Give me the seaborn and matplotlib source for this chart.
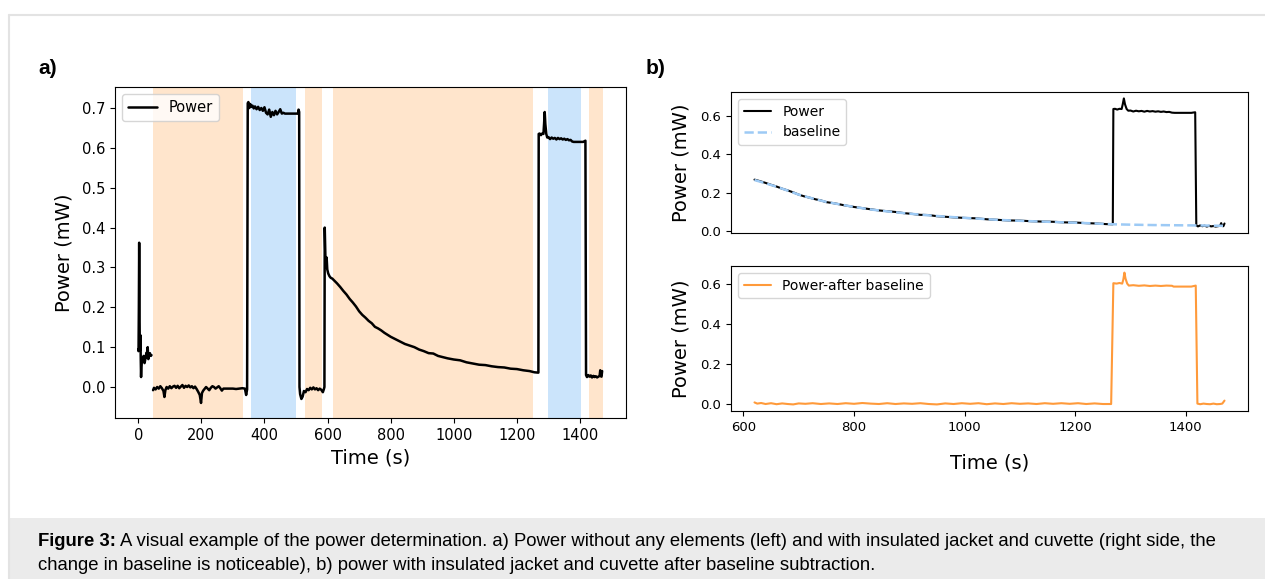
import numpy as np
import pandas as pd
import matplotlib
matplotlib.use("Agg")
import matplotlib.pyplot as plt
import seaborn as sns
from matplotlib.lines import Line2D
from matplotlib.patches import Rectangle

# ---- a) raw power trace (time in s, power in mW) ----
t_spike = [0, 1, 2, 3, 4, 5, 6, 7, 8, 9, 10, 12, 14, 17, 20, 23, 26, 28, 30, 32, 34, 37, 40, 42]
p_spike = [0.095, 0.09, 0.2, 0.362, 0.2, 0.1, 0.092, 0.13, 0.07, 0.025, 0.05, 0.072, 0.064, 0.078,
           0.06, 0.072, 0.086, 0.074, 0.1, 0.07, 0.078, 0.085, 0.078, 0.08]

t_empty = [47, 50, 55, 60, 65, 70, 75, 80, 83, 86,
           90, 95, 100, 105, 110, 115, 120, 125, 130, 135, 140, 145, 150, 155, 160, 165, 170, 175, 180,
           185, 190, 195, 199, 202, 206, 210,
           215, 220, 225, 230, 235, 240, 245, 250, 255, 260, 265, 270,
           280, 290, 300, 310, 320, 330, 338, 342, 345]
p_empty = [-0.008, -0.002, -0.006, 0.0, -0.004, 0.002, -0.003, -0.01, -0.025, -0.008,
           0.0, -0.004, 0.002, -0.003, 0.001, 0.003, -0.002, 0.003, -0.003, 0.001, 0.005, -0.002, 0.003,
           0.0, 0.004, -0.001, 0.002, -0.003, 0.001,
           -0.005, -0.012, -0.02, -0.04, -0.015, -0.009, -0.005,
           0.0, -0.004, -0.008, -0.002, 0.002, 0.0, -0.004, -0.001, 0.002, -0.003, -0.009, -0.004,
           -0.004, -0.004, -0.004, -0.005, -0.004, -0.003, -0.004, -0.02, -0.006]

t_on1 = [347, 349, 352, 355, 358, 362, 366, 370,
         375, 380, 385, 390, 395, 400, 405, 410, 415, 420, 425, 430, 435, 440, 445, 450, 455, 460, 465,
         470, 480, 490, 500, 506, 508, 510]
p_on1 = [0.712, 0.715, 0.70, 0.71, 0.703, 0.706, 0.699, 0.704,
         0.697, 0.703, 0.695, 0.70, 0.693, 0.702, 0.688, 0.684, 0.696, 0.678, 0.69, 0.682, 0.693, 0.684,
         0.69, 0.697, 0.686, 0.688, 0.686,
         0.686, 0.686, 0.686, 0.686, 0.686, 0.696, 0.69]

t_off1 = [511, 513, 517, 521, 525, 530, 535, 540, 545, 550, 555, 560, 565, 570, 575, 580, 585, 588]
p_off1 = [0.0, -0.018, -0.03, -0.024, -0.01, -0.013, -0.005, -0.008, -0.002, -0.006, -0.001, -0.006,
          -0.003, -0.008, -0.004, -0.007, -0.013, -0.006]

t_jacket = [590, 591, 593, 595, 597, 599, 602, 606, 610, 615,
            620, 630, 640, 650, 660, 670, 680, 690, 700, 710, 720, 730, 740, 750, 760, 770, 780, 790, 800,
            815, 830, 845, 860, 875, 890, 905, 920, 935, 950, 965, 980,
            1000, 1020, 1040, 1060, 1080, 1100, 1120, 1140, 1160, 1180, 1200, 1220, 1240,
            1255, 1268]
p_jacket = [0.0, 0.40, 0.33, 0.30, 0.325, 0.295, 0.285, 0.278, 0.274, 0.272,
            0.268, 0.26, 0.251, 0.241, 0.232, 0.221, 0.212, 0.202, 0.19, 0.181, 0.174, 0.166, 0.16,
            0.151, 0.147, 0.142, 0.136, 0.131, 0.126,
            0.12, 0.114, 0.108, 0.104, 0.1, 0.094, 0.09, 0.085, 0.084, 0.078, 0.075, 0.072,
            0.069, 0.067, 0.062, 0.059, 0.056, 0.055, 0.052, 0.05, 0.049, 0.046, 0.045, 0.042, 0.04,
            0.037, 0.036]

t_on2 = [1269, 1272, 1276, 1280, 1284, 1286, 1288, 1290, 1293, 1296,
         1300, 1305, 1310, 1315, 1320, 1325, 1330, 1335, 1340, 1345, 1350, 1355, 1360, 1365, 1370, 1375,
         1380, 1390, 1400, 1410, 1417]
p_on2 = [0.635, 0.636, 0.632, 0.636, 0.635, 0.66, 0.69, 0.66, 0.635, 0.626,
         0.627, 0.622, 0.626, 0.623, 0.625, 0.621, 0.625, 0.622, 0.624, 0.621, 0.623, 0.62, 0.622,
         0.619, 0.62, 0.616,
         0.615, 0.615, 0.615, 0.615, 0.618]

t_off2 = [1419, 1422, 1426, 1430, 1434, 1438, 1442, 1446, 1450, 1454, 1458, 1462, 1464, 1466, 1468, 1470]
p_off2 = [0.03, 0.025, 0.03, 0.026, 0.029, 0.024, 0.028, 0.025, 0.027, 0.024, 0.026, 0.028, 0.042,
          0.027, 0.026, 0.04]

# shaded windows in a): (start, end)
orange_spans = [(47, 332), (528, 581), (616, 1252), (1428, 1472)]
blue_spans = [(356, 501), (1298, 1402)]

# ---- b) baseline fit and power after baseline subtraction ----
t_base = [620, 640, 660, 680, 700, 725, 750, 775, 800, 830, 860, 890, 920, 950, 980,
          1020, 1060, 1100, 1140, 1180, 1220, 1268, 1300, 1340, 1380, 1420, 1470]
p_base = [0.266, 0.249, 0.231, 0.211, 0.19, 0.17, 0.152, 0.139, 0.126, 0.113, 0.103, 0.094, 0.086,
          0.079, 0.073, 0.066, 0.059, 0.054, 0.05, 0.046, 0.042, 0.036, 0.034, 0.032, 0.031, 0.03, 0.028]

t_corr = [620, 625, 632, 640, 650, 660, 670, 680, 690, 700,
          712, 725, 740, 755, 770, 785, 800, 815, 830, 845,
          860, 875, 890, 905, 920, 935, 950, 965, 980, 995,
          1010, 1025, 1040, 1055, 1070, 1085, 1100, 1115, 1130, 1145,
          1160, 1175, 1190, 1205, 1220, 1235, 1250, 1265,
          1269, 1275, 1280, 1285, 1287, 1289, 1291, 1294, 1297,
          1305, 1315, 1325, 1335, 1345, 1355, 1365, 1375,
          1378, 1390, 1400, 1410, 1418,
          1421, 1426, 1432, 1438, 1444, 1450, 1456, 1462, 1466, 1470]
p_corr = [0.006, 0.0, 0.003, -0.002, 0.002, -0.003, 0.001, -0.002, -0.004, 0.001,
          -0.001, 0.002, -0.002, 0.001, -0.002, 0.002, -0.001, 0.003, 0.0, -0.002,
          0.002, -0.002, 0.001, -0.001, 0.002, -0.002, -0.004, 0.001, -0.002, 0.002,
          -0.001, 0.002, -0.003, 0.001, -0.002, 0.002, -0.001, 0.001, -0.002, 0.002,
          -0.001, 0.002, -0.001, 0.002, -0.002, 0.001, -0.002, -0.002,
          0.602, 0.60, 0.603, 0.60, 0.62, 0.655, 0.625, 0.60, 0.59,
          0.592, 0.589, 0.591, 0.588, 0.59, 0.588, 0.59, 0.589,
          0.585, 0.585, 0.585, 0.585, 0.59,
          0.0, -0.003, 0.0, -0.002, -0.003, 0.0, -0.003, -0.002, 0.0, 0.015]

caption_1 = ("A visual example of the power determination. a) Power without any elements (left) "
             "and with insulated jacket and cuvette (right side, the")
caption_2 = ("change in baseline is noticeable), b) power with insulated jacket and cuvette "
             "after baseline subtraction.")

# ---- build frames ----
time_a = t_spike + t_empty + t_on1 + t_off1 + t_jacket + t_on2 + t_off2
power_a = p_spike + p_empty + p_on1 + p_off1 + p_jacket + p_on2 + p_off2
run_a = [0] * len(t_spike) + [1] * (len(time_a) - len(t_spike))
df_a = pd.DataFrame({"time": time_a, "power": power_a, "run": run_a})
df_b = df_a[df_a["time"] >= 620]
df_base = pd.DataFrame({"time": t_base, "power": p_base})
df_corr = pd.DataFrame({"time": t_corr, "power": p_corr})

sns.set_style("ticks", rc={"axes.edgecolor": "black", "text.color": "black",
                           "axes.labelcolor": "black", "xtick.color": "black",
                           "ytick.color": "black", "axes.linewidth": 1.0})
plt.rcParams["font.family"] = ["DejaVu Sans"]

W, H = 1265, 579
fig = plt.figure(figsize=(W / 100, H / 100), dpi=100)

# page decoration: thin frame and grey caption box
fig.add_artist(Line2D([9 / W, 1], [1 - 15 / H, 1 - 15 / H], color="#e3e3e3", lw=1.5))
fig.add_artist(Line2D([9 / W, 9 / W], [0, 1 - 15 / H], color="#e3e3e3", lw=1.5))
fig.add_artist(Rectangle((9 / W, 0), 1, 61 / H, transform=fig.transFigure,
                         facecolor="#ebebeb", edgecolor="none", zorder=0))

# ---- panel a ----
ax_a = fig.add_axes([115 / W, 1 - 418 / H, 511 / W, 331 / H])
for s, e in orange_spans:
    ax_a.axvspan(s, e, color="#ffe5cc", lw=0)
for s, e in blue_spans:
    ax_a.axvspan(s, e, color="#cbe4fb", lw=0)
sns.lineplot(data=df_a, x="time", y="power", units="run", estimator=None, sort=False,
             color="black", lw=1.8, ax=ax_a)
ax_a.legend(handles=[Line2D([], [], color="black", lw=1.8)], labels=["Power"],
            loc="upper left", fontsize=10.5)
ax_a.set_xlabel("Time (s)", fontsize=14)
ax_a.set_ylabel("Power (mW)", fontsize=14, labelpad=6)
ax_a.tick_params(labelsize=10.5)
ax_a.set_xticks([0, 200, 400, 600, 800, 1000, 1200, 1400])

# ---- panel b ----
ax_b1 = fig.add_axes([731 / W, 1 - 233 / H, 517 / W, 141 / H])
ax_b2 = fig.add_axes([731 / W, 1 - 411 / H, 517 / W, 145 / H], sharex=ax_b1)

sns.lineplot(data=df_b, x="time", y="power", estimator=None, sort=False,
             color="black", lw=1.5, ax=ax_b1, label="Power")
sns.lineplot(data=df_base, x="time", y="power", estimator=None, sort=False,
             color="#9dcaf5", lw=1.8, ls="--", ax=ax_b1, label="baseline")
ax_b1.legend(loc="upper left", fontsize=10)
ax_b1.set_xlabel("")
ax_b1.set_ylabel("Power (mW)", fontsize=14, labelpad=7)
ax_b1.tick_params(labelsize=9.5)
ax_b1.tick_params(axis="x", bottom=False, labelbottom=False)
ax_b1.set_yticks([0.0, 0.2, 0.4, 0.6])

sns.lineplot(data=df_corr, x="time", y="power", estimator=None, sort=False,
             color="#ff9a3a", lw=1.5, ax=ax_b2, label="Power-after baseline")
ax_b2.legend(loc="upper left", fontsize=10)
ax_b2.set_xlabel("Time (s)", fontsize=14, labelpad=14)
ax_b2.set_ylabel("Power (mW)", fontsize=14, labelpad=7)
ax_b2.tick_params(labelsize=9.5)
ax_b2.set_yticks([0.0, 0.2, 0.4, 0.6])
ax_b2.set_xticks([600, 800, 1000, 1200, 1400])

# panel letters
fig.text(38 / W, 1 - 68 / H, "a)", fontsize=15, fontweight="bold",
         family=["Liberation Sans"], va="center")
fig.text(646 / W, 1 - 68 / H, "b)", fontsize=15, fontweight="bold",
         family=["Liberation Sans"], va="center")

# caption
cap_fs = 13.3
y1, y2 = 1 - 541 / H, 1 - 565 / H
bold = fig.text(38 / W, y1, "Figure 3:", fontsize=cap_fs, fontweight="bold",
                family=["Liberation Sans"], va="center")
fig.canvas.draw()
bb = bold.get_window_extent()
fig.text((bb.x1 + 4) / W, y1, caption_1, fontsize=cap_fs, family=["Liberation Sans"], va="center")
fig.text(38 / W, y2, caption_2, fontsize=cap_fs, family=["Liberation Sans"], va="center")

fig.savefig("out.png", dpi=100)
